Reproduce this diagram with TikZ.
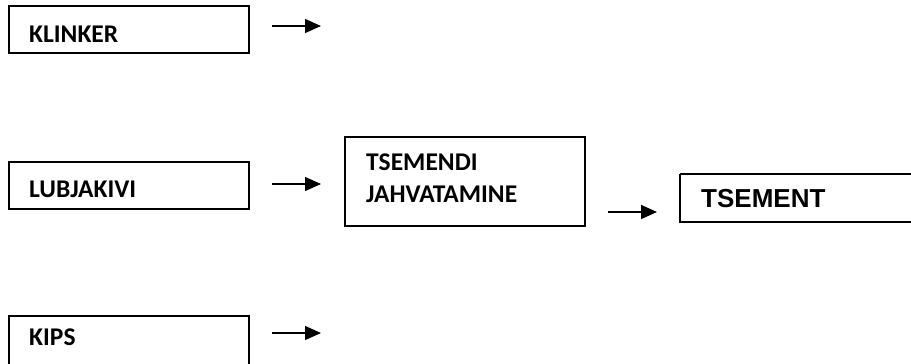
\documentclass[tikz,border=0pt]{standalone}
\usepackage{fontspec}
\setmainfont{Carlito}
\newfontfamily\arialfont{Liberation Sans}
\usetikzlibrary{arrows.meta}
\begin{document}
\begin{tikzpicture}[x=1pt,y=-1pt,
  box/.style={draw,line width=1.5pt},
  lbl/.style={anchor=base west,inner sep=0pt,font=\fontsize{25.5}{30}\selectfont\bfseries},
  arr/.style={line width=1.4pt,-{Triangle[length=16pt,width=14pt]}}]
\useasboundingbox (0,0) rectangle (911,364);
% boxes
\draw[box] (9,6) rectangle (249,53);
\draw[box] (9,162) rectangle (249,209);
\draw[box] (345,137) rectangle (585,226);
\draw[box] (680,174) -- (915,174) (680,174) -- (680,222) -- (915,222);
\draw[box] (9,316) rectangle (249,370);
% labels
\node[lbl] (klinker) at (29,42) {KLINKER};
\node[lbl] (lubja) at (29,197) {LUBJAKIVI};
\node[lbl] (tsem1) at (366,170) {TSEMENDI};
\node[lbl] (tsem2) at (366,202) {JAHVATAMINE};
\node[lbl,font=\arialfont\fontsize{26}{30}\selectfont\bfseries] (tsement) at (701,207) {TSEMENT};
\node[lbl] (kips) at (29,345) {KIPS};
% arrows
\coordinate (a1s) at (272,26); \coordinate (a1e) at (321,26);
\coordinate (a2s) at (272,184); \coordinate (a2e) at (321,184);
\coordinate (a3s) at (608,212); \coordinate (a3e) at (657,212);
\coordinate (a4s) at (272,333); \coordinate (a4e) at (321,333);
\draw[arr] (a1s) -- (a1e);
\draw[arr] (a2s) -- (a2e);
\draw[arr] (a3s) -- (a3e);
\draw[arr] (a4s) -- (a4e);
\end{tikzpicture}
\end{document}
